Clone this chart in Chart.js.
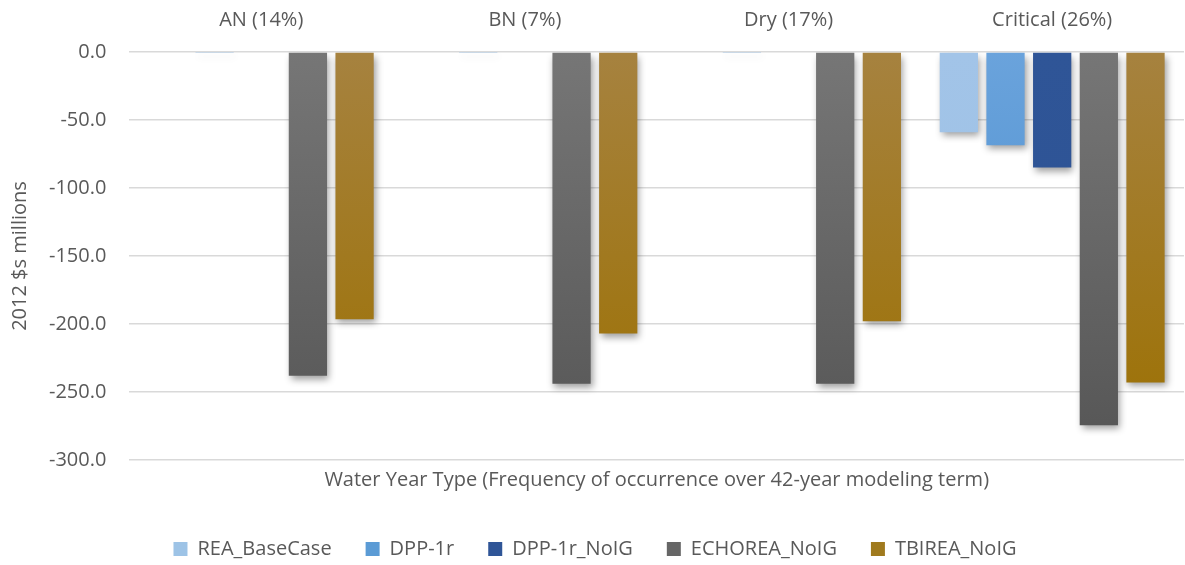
<!DOCTYPE html>
<html>
<head>
<meta charset="utf-8">
<script src="https://cdn.jsdelivr.net/npm/chart.js@4/dist/chart.umd.min.js"></script>
<style>
  html, body { margin: 0; padding: 0; background: #fff; }
  #wrap { width: 1185px; height: 565px; position: relative; }
</style>
</head>
<body>
<div id="wrap"><canvas id="c" width="1185" height="565"></canvas></div>
<script>
const categories = ['AN (14%)', 'BN (7%)', 'Dry (17%)', 'Critical (26%)'];
const seriesNames = ['REA_BaseCase', 'DPP-1r', 'DPP-1r_NoIG', 'ECHOREA_NoIG', 'TBIREA_NoIG'];
const reaBaseCase = [0, 0, 0, -59];
const dpp1r = [-0.4, -0.4, -0.4, -68.5];
const dpp1rNoIG = [0, 0, 0, -85];
const echoreaNoIG = [-238, -244, -244, -274.5];
const tbireaNoIG = [-196.5, -207, -198, -243];
const yTicks = [0, -50, -100, -150, -200, -250, -300];

const FONT = '"Open Sans", sans-serif';
const FS = 20;
const TXT = '#595959';

const palette = [
  { top: '#a2c4e8', bottom: '#9bc0e4', solid: '#9dc3e6' },
  { top: '#6aa3dc', bottom: '#448acb', solid: '#5b9bd5' },
  { top: '#2f5597', bottom: '#2c5293', solid: '#2f5597' },
  { top: '#767676', bottom: '#555555', solid: '#666666' },
  { top: '#a6823f', bottom: '#9c7000', solid: '#a07a1e' }
];
const seriesValues = [reaBaseCase, dpp1r, dpp1rNoIG, echoreaNoIG, tbireaNoIG];

function gradFor(i) {
  return function(ctx) {
    const chart = ctx.chart;
    const area = chart.chartArea;
    if (!area) return palette[i].solid;
    const g = chart.ctx.createLinearGradient(0, area.top, 0, area.bottom);
    g.addColorStop(0, palette[i].top);
    g.addColorStop(1, palette[i].bottom);
    return g;
  };
}

const shadowPlugin = {
  id: 'barShadow',
  beforeDatasetsDraw(chart) {
    const c = chart.ctx;
    c.save();
    c.shadowColor = 'rgba(0,0,0,0.38)';
    c.shadowBlur = 7;
    c.shadowOffsetX = 2;
    c.shadowOffsetY = 4;
  },
  afterDatasetsDraw(chart) {
    chart.ctx.restore();
  }
};

new Chart(document.getElementById('c'), {
  type: 'bar',
  data: {
    labels: categories,
    datasets: seriesNames.map((name, i) => ({
      label: name,
      data: seriesValues[i],
      backgroundColor: gradFor(i),
      borderWidth: 0,
      categoryPercentage: 0.885,
      barPercentage: 0.82
    }))
  },
  plugins: [shadowPlugin],
  options: {
    responsive: false,
    animation: false,
    devicePixelRatio: 1,
    layout: { padding: { top: -12, left: 6, right: 1, bottom: -4 } },
    scales: {
      x: {
        position: 'top',
        grid: { display: false, drawTicks: false },
        border: { display: false },
        ticks: { color: TXT, font: { family: FONT, size: FS }, padding: 20 }
      },
      x2: {
        position: 'bottom',
        labels: categories,
        grid: { display: false, drawTicks: false },
        border: { display: false },
        ticks: { display: false },
        title: {
          display: true,
          text: 'Water Year Type (Frequency of occurrence over 42-year modeling term)',
          color: TXT,
          font: { family: FONT, size: FS },
          padding: { top: 8, bottom: 13 }
        }
      },
      y: {
        min: -300,
        max: 0,
        afterBuildTicks(axis) { axis.ticks = yTicks.map(v => ({ value: v })); },
        grid: { color: '#d9d9d9', lineWidth: 1.5, drawTicks: false },
        border: { display: false },
        ticks: {
          color: TXT,
          font: { family: FONT, size: FS },
          padding: 23,
          callback: v => Number(v).toFixed(1)
        },
        title: {
          display: true,
          text: '2012 $s millions',
          color: TXT,
          font: { family: FONT, size: FS },
          padding: { top: 2, bottom: -6 }
        }
      }
    },
    plugins: {
      tooltip: { enabled: false },
      title: { display: false },
      legend: {
        position: 'bottom',
        labels: {
          color: TXT,
          font: { family: FONT, size: FS },
          boxWidth: 14,
          boxHeight: 14,
          padding: 34,
          generateLabels(chart) {
            return seriesNames.map((n, i) => ({
              text: n,
              fillStyle: palette[i].solid,
              strokeStyle: palette[i].solid,
              lineWidth: 0,
              fontColor: TXT,
              datasetIndex: i,
              hidden: false
            }));
          }
        }
      }
    }
  }
});
</script>
</body>
</html>
